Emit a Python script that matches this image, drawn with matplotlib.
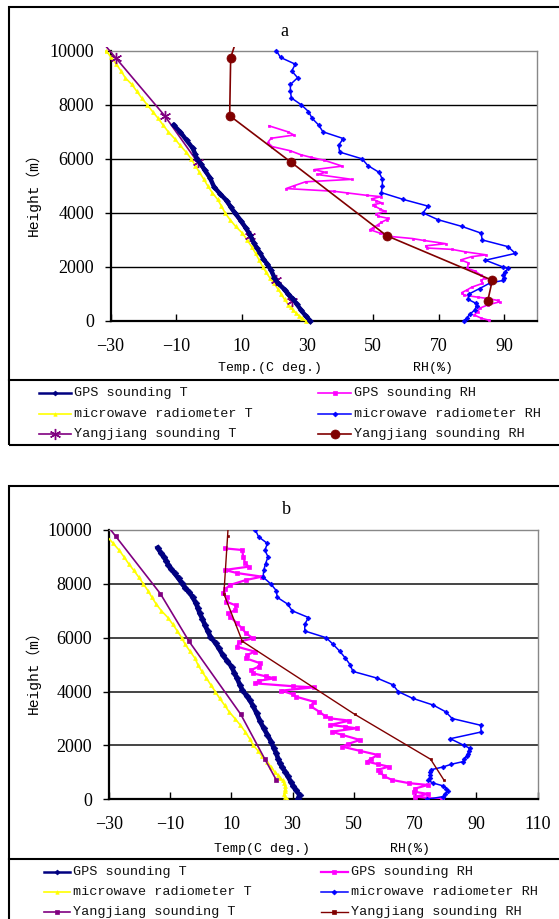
import matplotlib
matplotlib.use('Agg')
import matplotlib.pyplot as plt
from matplotlib.lines import Line2D
from matplotlib.patches import Rectangle

W, H = 559, 919

# ---------------- Panel a data ----------------
a_gps_t_h = [7250, 7000, 6683, 6400, 6177, 6002, 5800, 5569, 5300, 4969, 4700, 4455, 4200, 3985,
             3700, 3428, 3200, 2900, 2700, 2503, 2290, 2100, 1886, 1609, 1400, 1147, 990, 800,
             619, 407, 200, 0]
a_gps_t = [-10.8, -8.8, -6.8, -5.0, -4.2, -3.7, -2.4, -1.2, 0.3, 1.5, 3.4, 5.4, 6.7, 8.0,
           9.8, 11.3, 12.5, 13.6, 14.6, 15.6, 16.6, 17.8, 18.9, 19.9, 21.0, 23.2, 24.2, 25.7,
           26.8, 28.0, 29.4, 30.9]

a_mwr_t_h = [10000, 9750, 9500, 9250, 9000, 8750, 8500, 8250, 8000, 7750, 7500, 7250, 7000,
             6750, 6500, 6250, 6000, 5750, 5500, 5250, 5000, 4750, 4500, 4250, 4000, 3750,
             3500, 3250, 3000, 2750, 2500, 2250, 2000, 1800, 1600, 1400, 1200, 1000, 800,
             600, 500, 400, 300, 200, 100, 0]
a_mwr_t = [-31.3, -29.8, -28.2, -26.8, -25.5, -23.5, -22.0, -20.5, -18.8, -17.2, -15.5, -14.0,
           -12.4, -10.5, -8.8, -7.0, -5.4, -4.2, -2.9, -1.6, -0.4, 1.0, 2.6, 3.8, 4.9, 6.4,
           8.1, 10.2, 11.6, 13.0, 14.2, 15.3, 16.4, 17.4, 18.5, 19.8, 20.9, 22.0, 23.0,
           24.2, 25.0, 25.6, 26.5, 27.4, 28.4, 29.5]

a_yj_h = [10880, 9735, 7595, 5865, 3157, 1505, 745]
a_yj_t = [-36.4, -28.4, -13.5, -3.4, 12.4, 20.3, 25.2]
a_yj_rh = [9.6, 6.6, 6.3, 25.1, 54.1, 86.3, 84.9]

a_gps_rh_h = [7220, 7000, 6880, 6760, 6600, 6450, 6300, 6150, 6050, 5950, 5730, 5600, 5500,
              5420, 5240, 5150, 5000, 4900, 4800, 4740, 4650, 4600, 4520, 4450, 4370, 4300,
              4250, 4150, 4060, 3960, 3875, 3800, 3750, 3650, 3565, 3450, 3380, 3250, 3180,
              3130, 3050, 2980, 2900, 2860, 2780, 2700, 2650, 2560, 2447, 2380, 2260, 2150,
              1950, 1850, 1700, 1600, 1500, 1391, 1250, 1150, 1050, 956, 880, 832, 760, 708,
              600, 469, 335, 222, 100, 25]
a_gps_rh = [18.3, 24.0, 25.9, 18.9, 17.9, 19.3, 24.7, 28.0, 31.2, 35.0, 40.6, 32.0, 35.5,
            33.0, 43.5, 29.4, 25.8, 23.5, 38.0, 42.0, 48.0, 52.5, 49.5, 51.0, 52.6, 50.0,
            50.5, 52.0, 53.6, 51.0, 51.5, 54.5, 54.1, 52.5, 51.5, 50.0, 49.0, 52.1, 54.0,
            55.1, 62.0, 65.4, 70.0, 72.1, 66.0, 66.4, 74.0, 78.0, 84.4, 80.0, 76.7, 79.0,
            78.7, 81.0, 82.8, 84.0, 83.0, 83.3, 80.0, 78.6, 77.0, 77.7, 82.0, 84.9, 88.0,
            88.5, 85.0, 82.4, 81.8, 80.8, 83.0, 85.4]

a_mwr_rh_h = [10000, 9750, 9500, 9250, 9000, 8750, 8500, 8250, 8000, 7750, 7500, 7250, 7000,
              6750, 6500, 6250, 6000, 5750, 5500, 5250, 5000, 4750, 4500, 4250, 4000, 3750,
              3500, 3250, 3000, 2750, 2500, 2250, 2000, 1950, 1800, 1700, 1600, 1500, 1400,
              1200, 1000, 800, 650, 550, 400, 250, 100, 0]
a_mwr_rh = [20.5, 21.8, 26.3, 25.2, 27.0, 24.8, 24.8, 25.1, 28.1, 30.3, 31.4, 33.4, 34.7,
            40.9, 39.5, 39.8, 46.6, 48.4, 51.8, 52.8, 52.8, 52.5, 59.1, 66.7, 65.2, 69.7,
            77.0, 82.9, 83.2, 91.1, 93.3, 84.2, 89.5, 91.1, 90.2, 89.5, 90.0, 89.5, 85.5,
            82.4, 79.2, 78.9, 81.4, 81.5, 80.9, 79.4, 78.5, 77.8]

# ---------------- Panel b data ----------------
b_gps_t_h = [9344, 9150, 9010, 8850, 8700, 8550, 8391, 8200, 8020, 7850, 7710, 7500, 7277,
             7100, 6906, 6700, 6473, 6250, 6040, 5792, 5600, 5359, 5150, 4926, 4700, 4493,
             4250, 4059, 3850, 3688, 3450, 3193, 2900, 2636, 2400, 2141, 1900, 1708, 1500,
             1337, 1200, 1027, 850, 656, 500, 347, 161, 0]
b_gps_t = [-14.0, -13.0, -12.0, -11.2, -10.5, -9.6, -8.5, -7.2, -6.1, -5.0, -3.8, -2.6, -1.5,
           -0.9, -0.3, 0.6, 1.4, 2.3, 3.2, 4.9, 6.0, 7.2, 8.6, 10.1, 11.0, 11.9,
           12.8, 13.6, 15.0, 16.0, 17.2, 18.3, 19.4, 20.6, 21.8, 23.0, 23.9, 24.7, 25.3,
           25.9, 26.6, 27.6, 28.5, 29.4, 30.2, 31.1, 32.3, 31.7]

b_mwr_t_h = [10000, 9750, 9500, 9250, 9000, 8750, 8500, 8250, 8000, 7750, 7500, 7250, 7000,
             6750, 6500, 6250, 6000, 5750, 5500, 5250, 5000, 4750, 4500, 4250, 4000, 3750,
             3500, 3250, 3000, 2750, 2500, 2250, 2000, 1800, 1600, 1400, 1200, 1000, 900,
             800, 700, 600, 500, 400, 300, 200, 100, 0]
b_mwr_t = [-32.6, -30.5, -28.5, -26.6, -25.0, -23.5, -21.8, -20.2, -18.7, -17.2, -15.9, -14.5,
           -12.8, -10.7, -9.1, -7.6, -6.2, -5.0, -3.5, -1.9, -0.9, 0.4, 1.9, 3.3, 4.8, 6.2,
           7.8, 9.3, 11.2, 13.0, 14.6, 16.0, 17.2, 18.8, 20.0, 21.6, 23.0, 24.3, 25.2,
           26.0, 26.8, 27.2, 27.5, 27.6, 27.4, 27.3, 27.5, 28.2]

b_yj_h = [10880, 9765, 7630, 5870, 3156, 1485, 718]
b_yj_t = [-35.4, -27.7, -13.1, -3.8, 13.1, 21.0, 24.7]
b_yj_rh = [9.4, 8.8, 7.6, 13.6, 50.3, 75.1, 79.4]

b_gps_rh_h = [9319, 9257, 9000, 8762, 8639, 8515, 8400, 8267, 8143, 7958, 7800, 7648, 7500,
              7339, 7200, 7030, 6900, 6782, 6535, 6350, 6163, 5978, 5850, 5668, 5483, 5350,
              5235, 5050, 4926, 4800, 4678, 4560, 4493, 4400, 4307, 4200, 4158, 4035, 3900,
              3812, 3626, 3450, 3255, 3100, 3007, 2921, 2760, 2700, 2636, 2512, 2400, 2203,
              2050, 1955, 1800, 1646, 1500, 1398, 1300, 1213, 1100, 1027, 850, 718, 600,
              532, 400, 285, 198, 99, 0]
b_gps_rh = [7.8, 13.6, 13.9, 14.6, 15.7, 7.8, 12.0, 20.0, 14.8, 9.6, 8.0, 7.2, 8.5,
            8.4, 11.5, 11.3, 9.0, 9.6, 11.9, 13.5, 14.8, 17.1, 12.5, 11.9, 17.7, 15.0,
            14.8, 19.5, 18.9, 16.5, 17.1, 21.5, 24.1, 19.0, 17.7, 30.0, 36.9, 26.4, 30.0,
            31.1, 36.9, 36.0, 38.7, 40.5, 42.2, 48.6, 42.2, 47.0, 50.9, 42.8, 46.0, 52.0,
            48.0, 46.2, 52.0, 57.9, 55.5, 54.4, 58.0, 61.4, 58.0, 58.4, 60.0, 62.5, 68.0,
            74.2, 70.0, 69.5, 74.2, 70.1, 78.8]

b_mwr_rh_h = [10000, 9750, 9500, 9250, 9000, 8750, 8500, 8250, 8000, 7750, 7500, 7250, 7000,
              6750, 6500, 6250, 6000, 5750, 5500, 5250, 5000, 4750, 4500, 4250, 4000, 3750,
              3500, 3250, 3000, 2750, 2500, 2250, 2000, 1900, 1800, 1700, 1600, 1500, 1400,
              1300, 1200, 1100, 1000, 900, 800, 700, 600, 500, 400, 300, 200, 100, 0]
b_mwr_rh = [17.9, 18.9, 21.8, 21.0, 22.0, 21.2, 20.6, 20.4, 22.9, 24.7, 25.0, 28.4, 29.9,
            35.2, 34.0, 34.0, 41.0, 43.3, 45.4, 47.2, 48.8, 49.7, 57.6, 62.8, 64.5, 69.2,
            75.9, 80.0, 82.1, 91.4, 91.6, 81.5, 86.0, 87.8, 87.5, 87.3, 86.8, 86.0, 85.7,
            81.8, 79.1, 75.3, 74.8, 75.0, 74.8, 74.2, 76.0, 79.1, 80.2, 80.8, 79.8, 79.1, 74.0]

labels_left = ["GPS sounding T", "microwave radiometer T", "Yangjiang sounding T"]
labels_right = ["GPS sounding RH", "microwave radiometer RH", "Yangjiang sounding RH"]

y_ticks = [0, 2000, 4000, 6000, 8000, 10000]
a_x_ticks = [-30, -10, 10, 30, 50, 70, 90]
b_x_ticks = [-30, -10, 10, 30, 50, 70, 90, 110]

# ---------------- styles ----------------
C_GPS_T = '#000080'
C_MWR_T = '#FFFF00'
C_YJ_T = '#800080'
C_GPS_RH = '#FF00FF'
C_MWR_RH = '#0000FF'
C_YJ_RH = '#800000'

a_styles = {
    'gps_t': dict(color=C_GPS_T, lw=3.2, marker='D', ms=3.0),
    'mwr_t': dict(color=C_MWR_T, lw=1.2, marker='^', ms=2.8),
    'yj_t': dict(color=C_YJ_T, lw=1.2, marker=(6, 2, 0), ms=8, mew=1.0),
    'gps_rh': dict(color=C_GPS_RH, lw=1.2, marker='s', ms=2.0),
    'mwr_rh': dict(color=C_MWR_RH, lw=1.1, marker='D', ms=2.4),
    'yj_rh': dict(color=C_YJ_RH, lw=1.2, marker='o', ms=6.5),
}
b_styles = {
    'gps_t': dict(color=C_GPS_T, lw=3.4, marker='D', ms=3.4),
    'mwr_t': dict(color=C_MWR_T, lw=1.2, marker='^', ms=2.8),
    'yj_t': dict(color=C_YJ_T, lw=1.2, marker='s', ms=2.6),
    'gps_rh': dict(color=C_GPS_RH, lw=1.6, marker='s', ms=2.4),
    'mwr_rh': dict(color=C_MWR_RH, lw=1.1, marker='D', ms=2.4),
    'yj_rh': dict(color=C_YJ_RH, lw=1.0, marker='s', ms=1.8),
}

fig = plt.figure(figsize=(W / 100, H / 100), dpi=100)


def fx(px):
    return px / W


def fy(py):
    return 1 - py / H


TICK_FONT = dict(family='Liberation Serif', size=13)
MONO = ['Liberation Mono', 'Noto Sans CJK SC']


def make_panel(box, xmax, xticks, series, styles, extend_clip, grid_color, grid_lw):
    l, r, t, b = box
    ax = fig.add_axes([fx(l), fy(b), fx(r) - fx(l), fy(t) - fy(b)])
    ax.set_xlim(-30, xmax)
    ax.set_ylim(0, 10000)
    ax.set_xticks(xticks)
    ax.set_yticks(y_ticks)
    ax.set_xticklabels([str(v).replace('-', '\u2212') for v in xticks], fontdict=TICK_FONT)
    ax.set_yticklabels([str(v) for v in y_ticks], fontdict=TICK_FONT)
    ax.tick_params(axis='x', direction='in', length=5, width=1, pad=12)
    ax.tick_params(axis='y', direction='out', length=4, width=1, pad=8)
    for s in ['left', 'bottom']:
        ax.spines[s].set_color('black')
        ax.spines[s].set_linewidth(1.6)
    for s in ['top', 'right']:
        ax.spines[s].set_color('#888888')
        ax.spines[s].set_linewidth(1.0)
    for yv in y_ticks[1:-1]:
        ax.axhline(yv, color=grid_color, lw=grid_lw, zorder=0.5)
    if extend_clip:
        clip = Rectangle((-0.012, -0.01), 1.024, 1.022, transform=ax.transAxes,
                         fill=False, lw=0, visible=False)
        ax.add_patch(clip)
    for key, (xs, hs) in series.items():
        st = styles[key]
        ln, = ax.plot(xs, hs, color=st['color'], lw=st['lw'], marker=st['marker'],
                      ms=st['ms'], mew=st.get('mew', 0.5), mec=st['color'], mfc=st['color'],
                      solid_joinstyle='round', zorder=3)
        if extend_clip:
            ln.set_clip_path(clip)
    return ax


def frame(x0, ytop, ybot, ysep):
    fig.add_artist(Rectangle((fx(x0), fy(ybot)), 1.2, fy(ytop) - fy(ybot),
                             transform=fig.transFigure, fill=False, lw=1.5,
                             edgecolor='black', clip_on=False))
    fig.add_artist(Line2D([fx(x0), 1.0], [fy(ysep), fy(ysep)], transform=fig.transFigure,
                          color='black', lw=1.5))


def legend(rows, lcol, rcol, styles, fs):
    keys_l = ['gps_t', 'mwr_t', 'yj_t']
    keys_r = ['gps_rh', 'mwr_rh', 'yj_rh']
    for (x0, x1, xt), keys, labs in ((lcol, keys_l, labels_left), (rcol, keys_r, labels_right)):
        for y, k, lab in zip(rows, keys, labs):
            st = styles[k]
            fig.add_artist(Line2D([fx(x0), fx(x1)], [fy(y), fy(y)], transform=fig.transFigure,
                                  color=st['color'], lw=min(st['lw'], 1.8)))
            ms = st['ms'] if st['ms'] > 3.5 else 2.5
            fig.add_artist(Line2D([fx((x0 + x1) / 2)], [fy(y)], transform=fig.transFigure,
                                  color=st['color'], lw=0, marker=st['marker'], ms=ms,
                                  mew=st.get('mew', 0.5), mec=st['color'], mfc=st['color']))
            fig.text(fx(xt), fy(y), lab, ha='left', va='center', family=MONO, fontsize=fs,
                     color='#111111')


# ---------------- Panel a ----------------
frame(8.6, 7.3, 445, 380)
make_panel((110.5, 537.3, 50.7, 321), 100, a_x_ticks,
           {'mwr_t': (a_mwr_t, a_mwr_t_h), 'yj_t': (a_yj_t, a_yj_h), 'gps_t': (a_gps_t, a_gps_t_h),
            'gps_rh': (a_gps_rh, a_gps_rh_h), 'mwr_rh': (a_mwr_rh, a_mwr_rh_h),
            'yj_rh': (a_yj_rh, a_yj_h)},
           a_styles, True, 'black', 1.0)
fig.text(fx(284), fy(32), 'a', ha='center', va='center', family='Liberation Serif', fontsize=13)
fig.text(fx(33), fy(191), 'Height\uff08m\uff09', rotation=90, ha='center', va='center',
         family=MONO, fontsize=10.5)
fig.text(fx(269.5), fy(368), 'Temp.(C deg.)', ha='center', va='center', family=MONO, fontsize=9.5)
fig.text(fx(433), fy(368), 'RH(%)', ha='center', va='center', family=MONO, fontsize=9.5)
legend([393, 414, 434], (39, 70.6, 74), (318, 351, 354), a_styles, 9.7)

# ---------------- Panel b ----------------
frame(8.9, 486, 930, 859.3)
make_panel((108.7, 537.6, 530, 799.3), 110, b_x_ticks,
           {'mwr_t': (b_mwr_t, b_mwr_t_h), 'yj_t': (b_yj_t, b_yj_h), 'gps_t': (b_gps_t, b_gps_t_h),
            'gps_rh': (b_gps_rh, b_gps_rh_h), 'mwr_rh': (b_mwr_rh, b_mwr_rh_h),
            'yj_rh': (b_yj_rh, b_yj_h)},
           b_styles, False, '#444444', 1.4)
fig.text(fx(286), fy(510), 'b', ha='center', va='center', family='Liberation Serif', fontsize=13)
fig.text(fx(33), fy(669), 'Height\uff08m\uff09', rotation=90, ha='center', va='center',
         family=MONO, fontsize=10.5)
fig.text(fx(262.5), fy(849), 'Temp(C deg.)', ha='center', va='center', family=MONO, fontsize=9.5)
fig.text(fx(410), fy(849), 'RH(%)', ha='center', va='center', family=MONO, fontsize=9.5)
legend([872, 892, 912], (43.5, 69.5, 73), (321, 347.6, 351), b_styles, 9.7)

fig.savefig('out.png', dpi=100)
